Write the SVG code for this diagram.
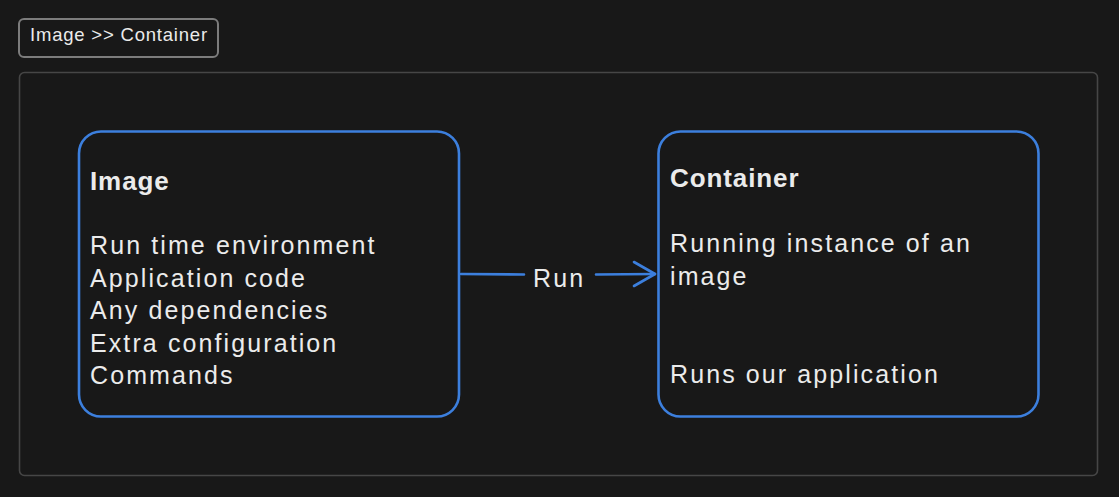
<svg xmlns="http://www.w3.org/2000/svg" width="1119" height="497" viewBox="0 0 1119 497">
<style>
.t{font-family:"Liberation Sans",Arial,sans-serif;fill:#ebebeb;}
.body{font-size:25px;letter-spacing:2.1px;}
.head{font-size:26px;font-weight:bold;letter-spacing:0.9px;}
.node{fill:#181818;stroke:#3c7fdd;stroke-width:2.6;}
.conn{fill:none;stroke:#3c7fdd;stroke-width:2.6;stroke-linecap:round;stroke-linejoin:round;}
</style>
<rect width="1119" height="497" fill="#181818"/>
<g id="frame">
<rect x="19.5" y="72.5" width="1078" height="403" rx="5" fill="#181818" stroke="#464646" stroke-width="1.6"/>
</g>
<g id="title">
<rect x="19" y="19" width="199" height="38" rx="5" fill="#181818" stroke="#7c7c7c" stroke-width="2"/>
<text class="t" x="30" y="40.5" font-size="18.5" letter-spacing="0.8">Image &gt;&gt; Container</text>
</g>
<g id="connectors">
<path class="conn" d="M461 274 L524 274.5"/>
<path class="conn" d="M596 274.5 L655 274"/>
<path class="conn" d="M634 262 L655 274 L634 286"/>
<text class="t body" x="533" y="287" letter-spacing="1.6">Run</text>
</g>
<g id="image">
<rect class="node" x="79" y="131.5" width="380" height="285" rx="22"/>
<text class="t head" x="90" y="190">Image</text>
<text class="t body" x="90" y="254">Run time environment</text>
<text class="t body" x="90" y="286.5">Application code</text>
<text class="t body" x="90" y="319">Any dependencies</text>
<text class="t body" x="90" y="351.5">Extra configuration</text>
<text class="t body" x="90" y="384">Commands</text>
</g>
<g id="container">
<rect class="node" x="658.5" y="131.5" width="380" height="285" rx="22"/>
<text class="t head" x="670" y="187">Container</text>
<text class="t body" x="670" y="252">Running instance of an</text>
<text class="t body" x="670" y="284.5">image</text>
<text class="t body" x="670" y="383">Runs our application</text>
</g>
</svg>
